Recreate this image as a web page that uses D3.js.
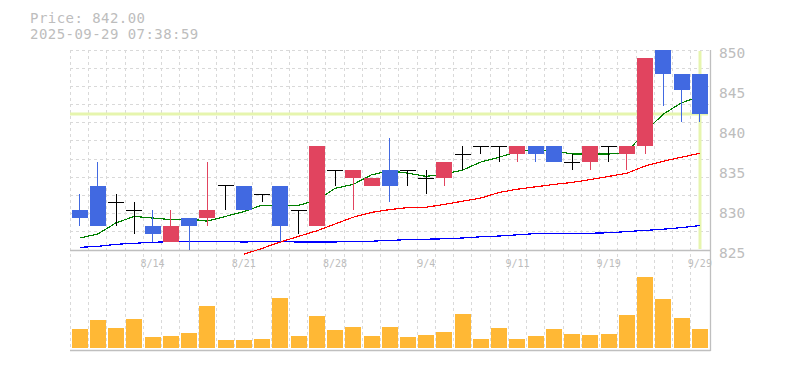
<!DOCTYPE html>
<html>
<head>
<meta charset="utf-8">
<script src="https://cdn.jsdelivr.net/npm/d3@7"></script>
<style>
  html, body { margin: 0; padding: 0; background: #fff; }
  svg { display: block; }
  text { font-family: "DejaVu Sans Mono", monospace; fill: #bdbdbd; }
</style>
</head>
<body>
<svg id="chart" width="785" height="370"></svg>
<script>
// ---- data ----
const dates = ["8/7","8/8","8/12","8/13","8/14","8/15","8/18","8/19","8/20","8/21","8/22","8/25","8/26","8/27","8/28","8/29","9/1","9/2","9/3","9/4","9/5","9/8","9/9","9/10","9/11","9/12","9/16","9/17","9/18","9/19","9/22","9/24","9/25","9/26","9/29"];
const openP  = [830,833,831,830,828,826,829,829,833,833,832,833,830,828,835,834,833,835,835,834,834,837,838,838,837,838,838,836,836,838,837,838,850,847,847];
const highP  = [832,836,832,831,830,830,829,836,833,833,832,833,830,838,835,835,834,839,835,835,836,838,838,838,838,838,838,837,838,838,838,849,850,847,847];
const lowP   = [828,828,828,827,826,826,825,828,830,830,831,826,827,828,833,830,833,831,833,832,833,835,837,836,836,836,836,835,835,836,835,837,843,841,841];
const closeP = [829,828,831,830,827,828,828,830,833,830,832,828,830,838,835,835,834,833,835,834,836,837,838,838,838,837,836,836,838,838,838,849,847,845,842];
const volume = [18700,27700,19700,28700,10700,11700,14700,42000,8000,8000,9000,50000,12000,32000,18000,21000,12000,21000,11000,13000,16000,34000,9000,20000,9000,12000,19000,14000,13000,13700,32700,70700,48700,29700,18700];
const ma5  = [826.5,827.0,828.4,829.2,829.0,828.8,828.9,828.6,829.2,829.8,830.6,830.6,830.6,831.2,832.7,833.2,834.4,834.9,834.6,834.2,834.5,835.0,836.0,836.6,837.3,837.5,837.4,837.0,837.0,837.0,837.2,839.8,842.0,843.4,844.2];
const ma25 = [null,null,null,null,null,null,null,null,null,824.46,825.2,826.0,826.7,827.4,828.25,829.1,829.7,830.05,830.3,830.35,830.7,831.1,831.5,832.2,832.6,832.9,833.2,833.45,833.8,834.2,834.6,835.5,836.1,836.6,837.1];
const ma75 = [825.33,825.46,825.71,825.84,825.96,826.05,826.09,826.05,826.05,826.0,826.05,826.05,826.0,826.0,826.0,826.1,826.1,826.2,826.3,826.35,826.4,826.5,826.65,826.75,826.9,827.05,827.08,827.08,827.1,827.15,827.3,827.45,827.6,827.8,828.05];
const priceTicks = [825,830,835,840,845,850];
const dateTicks = ["8/14","8/21","8/28","9/4","9/11","9/19","9/29"];
const currentPrice = 842;
const headerLines = ["Price: 842.00", "2025-09-29 07:38:59"];

// ---- scales ----
const svg = d3.select("#chart");
const idx = d3.range(dates.length);
const x = d3.scaleBand().domain(idx).range([70.5, 709]).paddingInner(0).paddingOuter(0);
const step = x.step();
const cx = i => x(i) + step / 2;
const y = d3.scaleLinear().domain([825, 850]).range([250, 50]);
const yv = d3.scaleLinear().domain([0, 100000]).range([348, 248]);
const px = v => Math.round(v) + 0.5;

const gridC = "#d9d9d9", axisC = "#bfbfbf";

// ---- grid ----
const grid = svg.append("g");
idx.forEach(i => {
  const gx = Math.floor(x(i)) + 0.5;
  grid.append("line").attr("x1", gx).attr("x2", gx).attr("y1", 50).attr("y2", 350)
    .attr("stroke", gridC).attr("stroke-dasharray", "3,3").attr("shape-rendering", "crispEdges");
});
d3.range(11).forEach(j => {
  const gy = Math.floor(50 + j * 200 / 11) + 0.5;
  grid.append("line").attr("x1", 70).attr("x2", 710).attr("y1", gy).attr("y2", gy)
    .attr("stroke", gridC).attr("stroke-dasharray", "3,3").attr("shape-rendering", "crispEdges");
});

// ---- current price markers ----
const last = dates.length - 1;
svg.append("line").attr("x1", 70).attr("x2", 708).attr("y1", y(currentPrice)).attr("y2", y(currentPrice))
  .attr("stroke", "#e6f5ae").attr("stroke-width", 3);
svg.append("line").attr("x1", Math.round(cx(last))).attr("x2", Math.round(cx(last))).attr("y1", 51).attr("y2", 249)
  .attr("stroke", "#e6f5ae").attr("stroke-width", 3);

// ---- axes lines ----
svg.append("line").attr("x1", 70).attr("x2", 710.5).attr("y1", 250.5).attr("y2", 250.5).attr("stroke", axisC).attr("stroke-width", 1.3);
svg.append("line").attr("x1", 70).attr("x2", 710.5).attr("y1", 350.5).attr("y2", 350.5).attr("stroke", axisC).attr("stroke-width", 1.3);
svg.append("line").attr("x1", 710.5).attr("x2", 710.5).attr("y1", 50).attr("y2", 351).attr("stroke", axisC).attr("stroke-width", 1.3);

// ---- volume ----
svg.append("g").selectAll("rect").data(idx).join("rect")
  .attr("x", i => Math.round(cx(i) - 8)).attr("width", 16)
  .attr("y", i => yv(volume[i])).attr("height", i => yv(0) - yv(volume[i]))
  .attr("fill", "#ffb835").attr("shape-rendering", "crispEdges");

// ---- moving averages ----
const maLine = arr => d3.line().defined(i => arr[i] != null).x(i => cx(i)).y(i => y(arr[i]))(idx);
[[ma75, "#0000ff"], [ma25, "#ff0000"], [ma5, "#008000"]].forEach(([arr, col]) => {
  svg.append("path").attr("d", maLine(arr)).attr("fill", "none").attr("stroke", col)
    .attr("stroke-width", 1.2).attr("shape-rendering", "crispEdges");
});

// ---- candles ----
const up = "#e1445f", down = "#4169e1";
const cg = svg.append("g");
idx.forEach(i => {
  const o = openP[i], c = closeP[i], h = highP[i], l = lowP[i];
  const col = c > o ? up : (c < o ? down : "#000");
  const wx = px(cx(i) - 0.5);
  cg.append("line").attr("x1", wx).attr("x2", wx).attr("y1", y(h)).attr("y2", y(l))
    .attr("stroke", col).attr("stroke-width", 1.2).attr("shape-rendering", "crispEdges");
  if (c === o) {
    cg.append("line").attr("x1", Math.round(cx(i) - 8)).attr("x2", Math.round(cx(i) + 8))
      .attr("y1", px(y(o) - 0.5)).attr("y2", px(y(o) - 0.5))
      .attr("stroke", "#000").attr("stroke-width", 1.2).attr("shape-rendering", "crispEdges");
  } else {
    cg.append("rect").attr("x", Math.round(cx(i) - 8)).attr("width", 16)
      .attr("y", y(Math.max(o, c))).attr("height", Math.abs(y(o) - y(c)))
      .attr("fill", col).attr("shape-rendering", "crispEdges");
  }
});

// ---- labels ----
svg.append("g").selectAll("text").data(priceTicks).join("text")
  .attr("x", 719).attr("y", d => y(d) + 8).attr("font-size", "14.5px").text(d => d);
svg.append("g").selectAll("text").data(dateTicks).join("text")
  .attr("x", d => cx(dates.indexOf(d))).attr("y", 267).attr("text-anchor", "middle")
  .attr("font-size", "10px").text(d => d);
svg.append("g").selectAll("text").data(headerLines).join("text")
  .attr("x", 30).attr("y", (d, i) => 22.5 + i * 16.5).attr("font-size", "14px")
  .attr("letter-spacing", "0.45px").text(d => d);
</script>
</body>
</html>
